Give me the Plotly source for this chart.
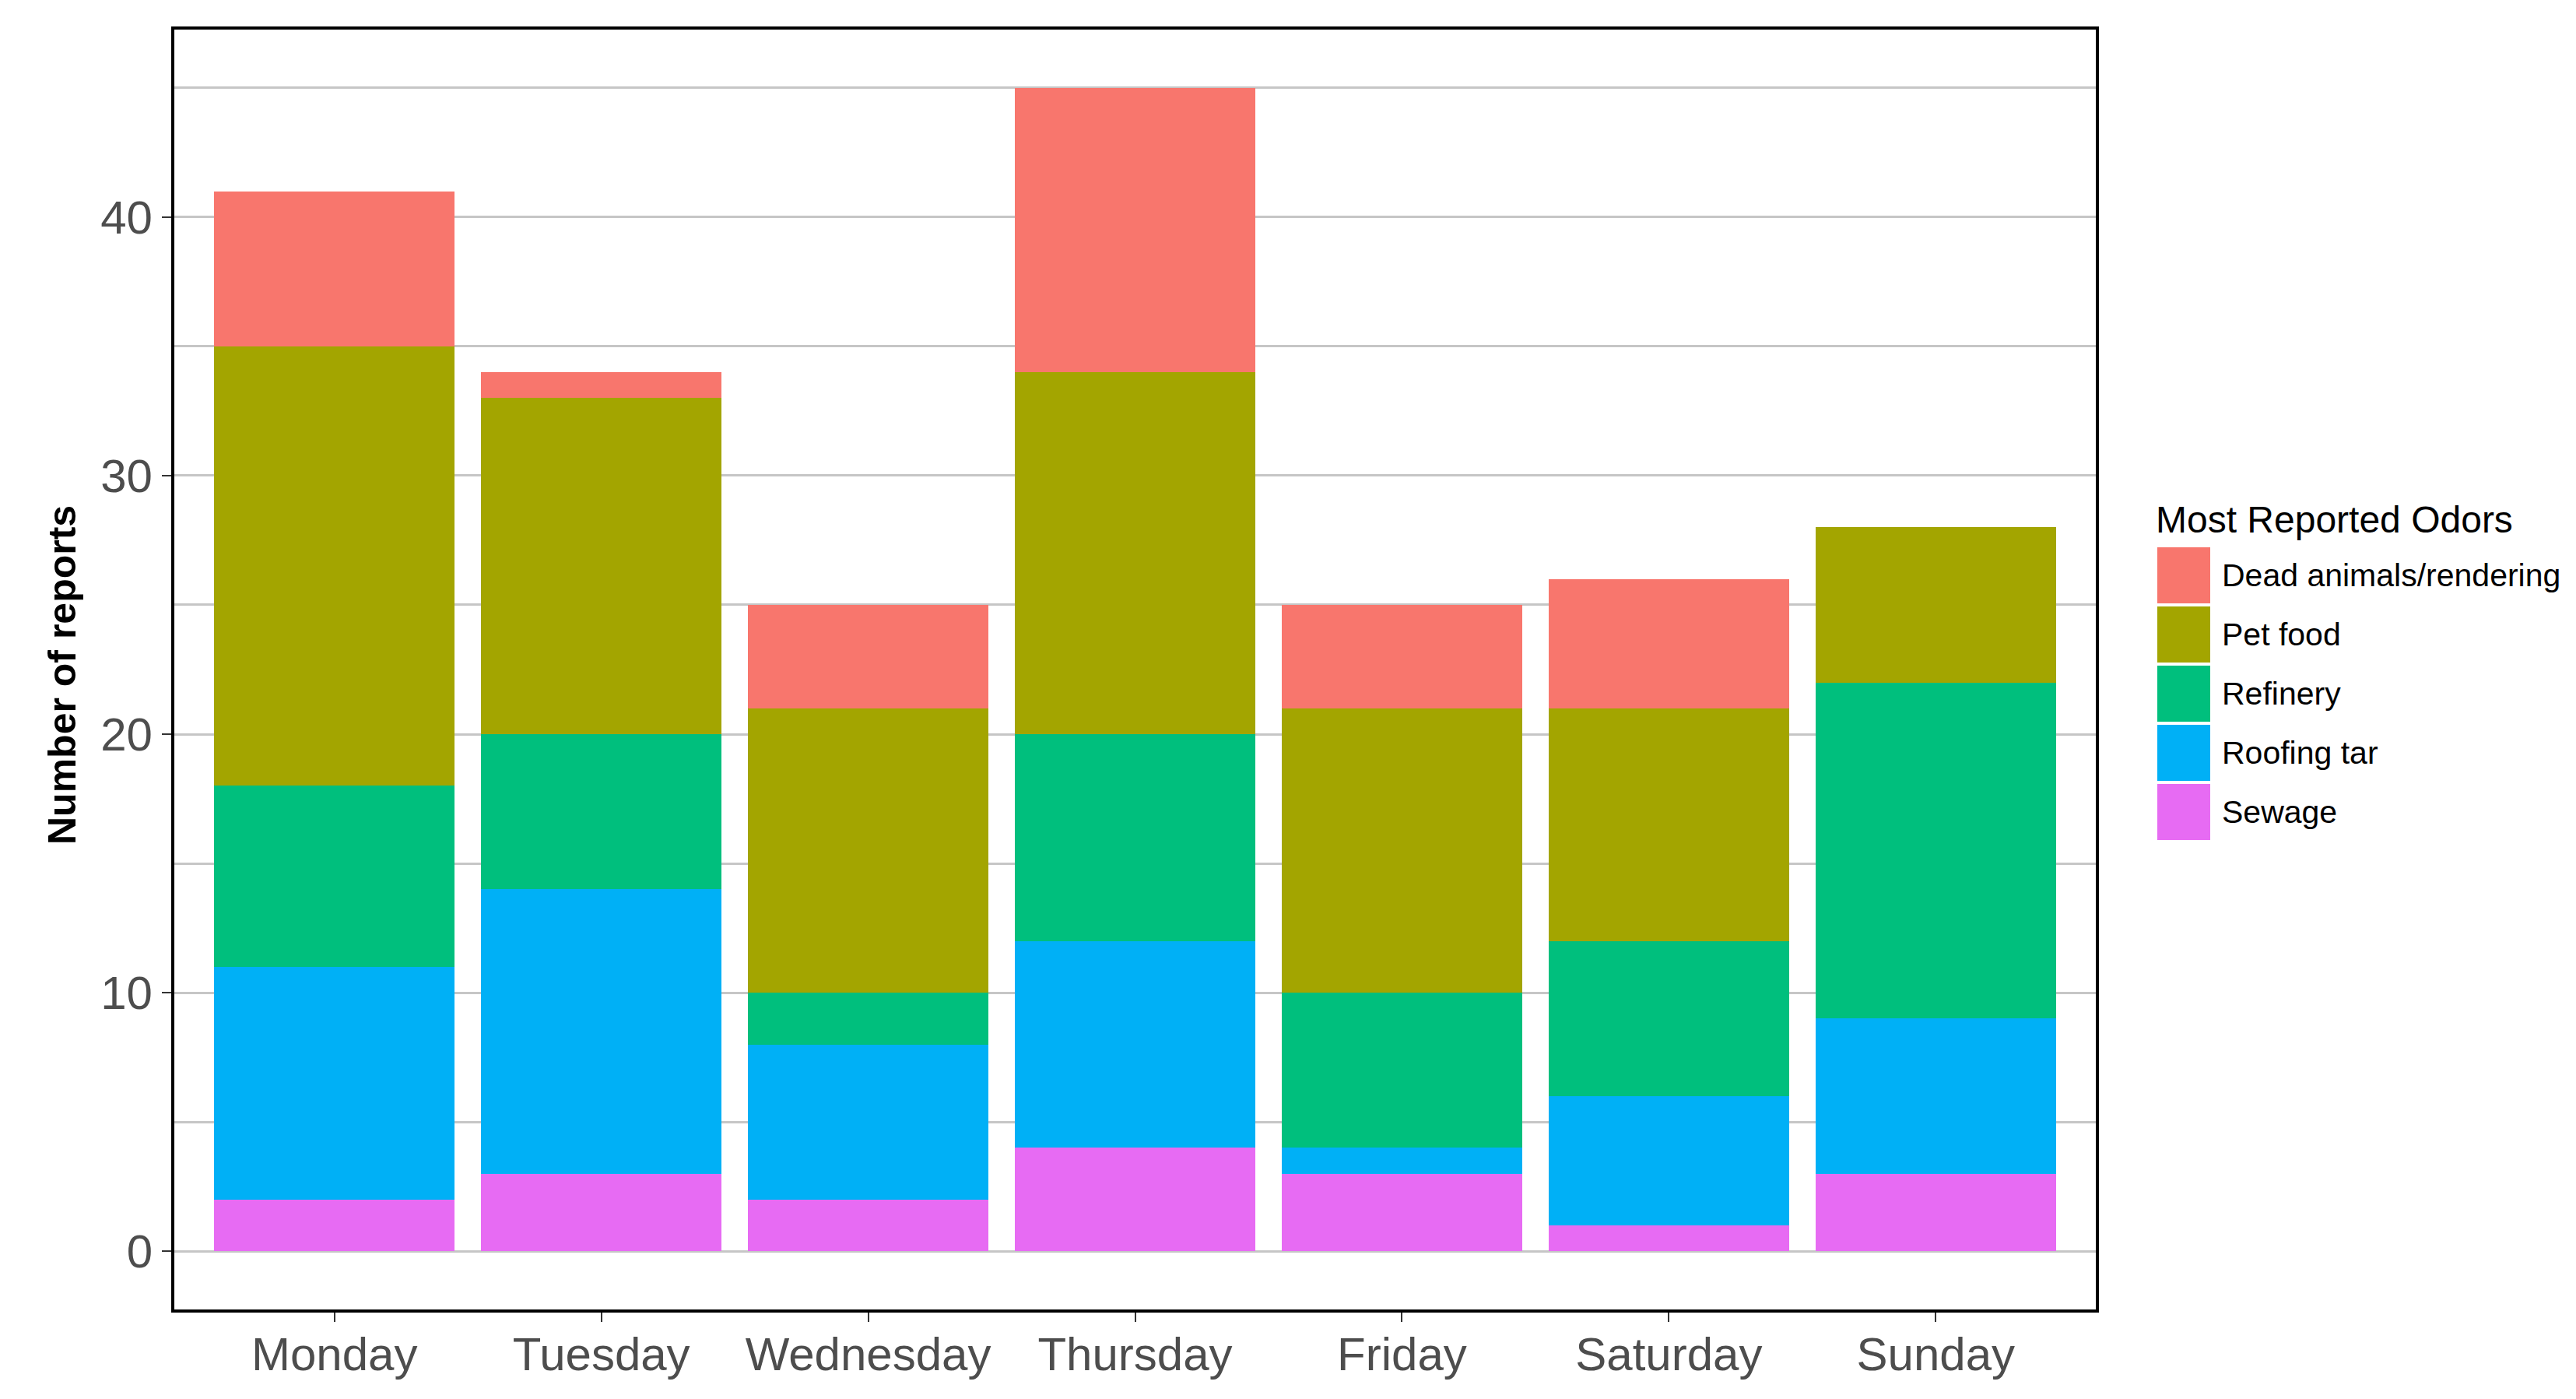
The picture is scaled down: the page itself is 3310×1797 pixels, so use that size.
import plotly.graph_objects as go

days = ["Monday", "Tuesday", "Wednesday", "Thursday", "Friday", "Saturday", "Sunday"]
sewage = [2, 3, 2, 4, 3, 1, 3]
roofing_tar = [9, 11, 6, 8, 1, 5, 6]
refinery = [7, 6, 2, 8, 6, 6, 13]
pet_food = [17, 13, 11, 14, 11, 9, 6]
dead_animals = [6, 1, 4, 11, 4, 5, 0]

series_names = ["Sewage", "Roofing tar", "Refinery", "Pet food", "Dead animals/rendering"]
series_values = [sewage, roofing_tar, refinery, pet_food, dead_animals]
series_colors = ["#E76BF3", "#00B0F6", "#00BF7D", "#A3A500", "#F8766D"]

y_ticks = [0, 10, 20, 30, 40]

W, H = 3310, 1797
L, R, T, B = 216, 625, 30, 123
plot_w = W - L - R
plot_h = H - T - B

fig = go.Figure()
for name, vals, col in zip(series_names, series_values, series_colors):
    fig.add_trace(go.Bar(
        x=days, y=vals, name=name, marker=dict(color=col, line=dict(width=0)),
        width=0.9, showlegend=False,
    ))

font_family = "Liberation Sans, Arial, sans-serif"
grid_col = "#C6C6C6"

fig.update_layout(
    width=W, height=H,
    margin=dict(l=L, r=R, t=T, b=B, autoexpand=False),
    barmode="stack",
    plot_bgcolor="white", paper_bgcolor="white",
    font=dict(family=font_family),
    xaxis=dict(
        type="category", categoryorder="array", categoryarray=days,
        range=[-0.6, 6.6], showgrid=False, zeroline=False,
        showline=True, linecolor="black", linewidth=4, mirror=True,
        ticks="outside", ticklen=12, tickwidth=2, tickcolor="#333333",
        ticklabelstandoff=-10,
        tickfont=dict(size=60, color="#4D4D4D", family=font_family),
    ),
    yaxis=dict(
        range=[-2.25, 47.25], tickvals=y_ticks, ticktext=[str(v) for v in y_ticks],
        showgrid=True, gridcolor=grid_col, gridwidth=3, zeroline=False,
        minor=dict(dtick=5, tick0=0, showgrid=True, gridcolor=grid_col, gridwidth=3, ticks=""),
        showline=True, linecolor="black", linewidth=4, mirror=True,
        ticks="outside", ticklen=12, tickwidth=2, tickcolor="#333333",
        tickfont=dict(size=60, color="#4D4D4D", family=font_family),
    ),
)

# y axis title
fig.add_annotation(
    text="<b>Number of reports</b>", xref="paper", yref="paper",
    x=(72 - L) / plot_w, y=1 - (859 - T) / plot_h, textangle=-90,
    showarrow=False, font=dict(size=50, color="black", family=font_family),
    xanchor="center", yanchor="middle",
)

# legend (manual, ggplot style)
fig.add_annotation(
    text="Most Reported Odors", xref="paper", yref="paper",
    x=(2760 - L) / plot_w, y=1 - (659 - T) / plot_h,
    showarrow=False, xanchor="left", yanchor="middle",
    font=dict(size=48, color="black", family=font_family),
)
key_x0, key_x1 = 2764, 2832
key_top, pitch, key_h = 695, 76, 72
legend_order = list(reversed(range(len(series_names))))
for i, idx in enumerate(legend_order):
    y0 = key_top + i * pitch
    y1 = y0 + key_h
    fig.add_shape(
        type="rect", xref="paper", yref="paper",
        x0=(key_x0 - L) / plot_w, x1=(key_x1 - L) / plot_w,
        y0=1 - (y1 - T) / plot_h, y1=1 - (y0 - T) / plot_h,
        fillcolor=series_colors[idx], line=dict(width=0),
    )
    fig.add_annotation(
        text=series_names[idx], xref="paper", yref="paper",
        x=(2845 - L) / plot_w, y=1 - ((y0 + y1) / 2 - T) / plot_h,
        showarrow=False, xanchor="left", yanchor="middle",
        font=dict(size=41, color="black", family=font_family),
    )

fig.write_html("out.html")
